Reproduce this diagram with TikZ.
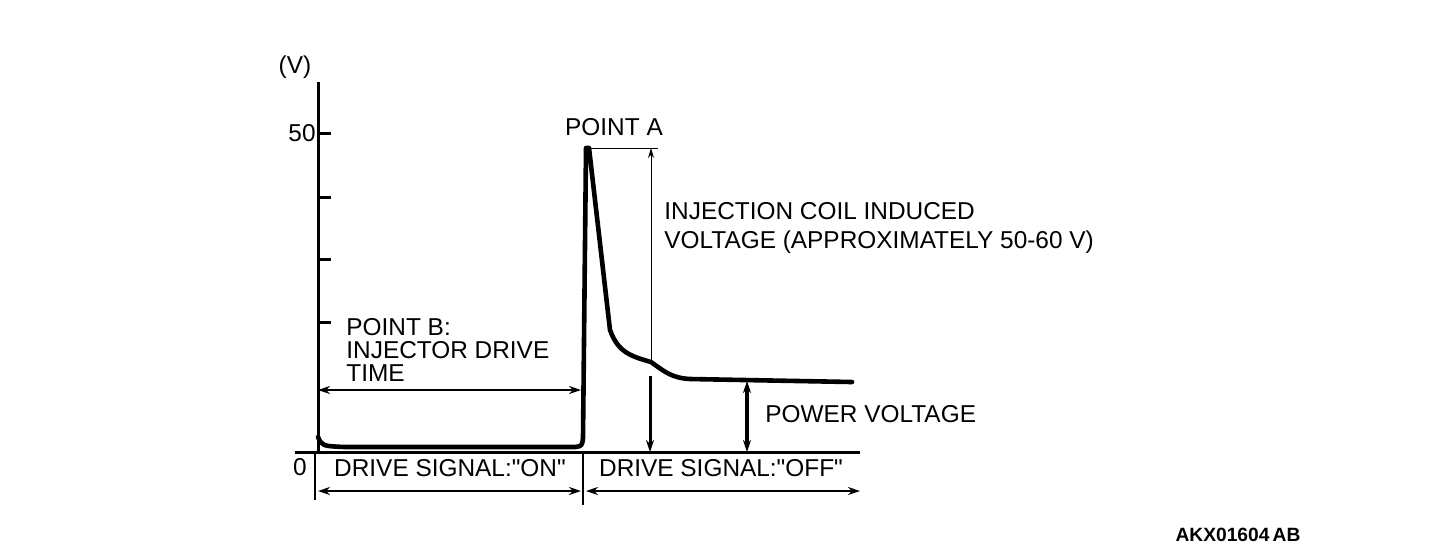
\documentclass[tikz,border=0pt]{standalone}
\usepackage{fontspec}
\setmainfont{Liberation Sans}[Ligatures=TeXOff]
\usetikzlibrary{arrows.meta}
\begin{document}
\begin{tikzpicture}[x=0.5pt, y=-0.5pt,
    every node/.style={inner sep=0pt, font=\fontsize{12.2}{14.5}\selectfont},
    axis/.style={line width=1.5pt},
    wave/.style={line width=2.3pt, line join=round, line cap=round},
    dim/.style={line width=1.4pt, {Stealth[length=6pt,width=4pt]}-{Stealth[length=6pt,width=4pt]}},
    thinline/.style={line width=0.5pt}]
    \useasboundingbox (0,0) rectangle (1440,554);
    % Axes
    \coordinate (top) at (318,82);
    \coordinate (orig) at (318,452);
    \coordinate (xl) at (295,452);
    \coordinate (xr) at (860,452);
    \draw[axis] (orig) -- (top);
    \draw[axis] (xl) -- (xr);
    \foreach \y in {133,197,259,322}
        \draw[axis] (318,\y) -- (331,\y);
    \node (vlab) at (295,67) {(V)};
    \node[anchor=east] (fifty) at (316,133) {50};
    \node (zero) at (300,467) {0};
    % Injector waveform
    \coordinate (peak) at (588,148);
    \coordinate (knee) at (651,362);
    \coordinate (flat) at (747,381);
    \draw[wave] (318,437) .. controls (322,446) .. (345,447) -- (575,447)
        .. controls (582,446) .. (583,438) -- (586,148) -- (589,148) -- (610,330)
        .. controls (618,352) and (630,356) .. (knee)
        .. controls (665,372) and (672,378) .. (690,379) -- (852,382);
    % Induced voltage
    \coordinate (pktip) at (658,148);
    \coordinate (pkarr) at (651,148);
    \coordinate (kntop) at (650,376);
    \coordinate (knbot) at (650,452);
    \draw[thinline] (peak) -- (pktip);
    \draw[thinline, -{Stealth[length=5pt,width=3pt]}] (knee) -- (pkarr);
    \draw[line width=1.5pt, -{Stealth[length=6pt,width=4pt]}] (kntop) -- (knbot);
    \node (pa) at (614,127) {POINT A};
    \node[anchor=west, align=left] (inj) at (664,228) {INJECTION COIL INDUCED\\VOLTAGE (APPROXIMATELY 50-60 V)};
    % Power voltage
    \coordinate (pwbot) at (747,452);
    \draw[dim, line width=1.8pt] (flat) -- (pwbot);
    \node[anchor=west] (pw) at (765,414) {POWER VOLTAGE};
    % Point B
    \coordinate (bl) at (318,390);
    \coordinate (br) at (581,390);
    \draw[dim] (bl) -- (br);
    \node[anchor=west, align=left, font=\fontsize{12.2}{11.5}\selectfont] (pb) at (346,350) {POINT B:\\INJECTOR DRIVE\\TIME};
    % Drive signal
    \coordinate (sl) at (315,452);
    \coordinate (slb) at (315,500);
    \coordinate (sm) at (583,452);
    \coordinate (smb) at (583,505);
    \draw[line width=0.8pt] (sl) -- (slb);
    \draw[line width=0.8pt] (sm) -- (smb);
    \coordinate (onl) at (318,491);
    \coordinate (onr) at (581,491);
    \coordinate (offl) at (586,491);
    \coordinate (offr) at (860,491);
    \draw[dim] (onl) -- (onr);
    \draw[dim] (offl) -- (offr);
    \node (on) at (450,468) {DRIVE SIGNAL:"ON"};
    \node (off) at (721,468) {DRIVE SIGNAL:"OFF"};
    \node[font=\fontsize{9.6}{11}\selectfont\bfseries] (code) at (1238,535) {AKX01604\,AB};
\end{tikzpicture}
\end{document}
